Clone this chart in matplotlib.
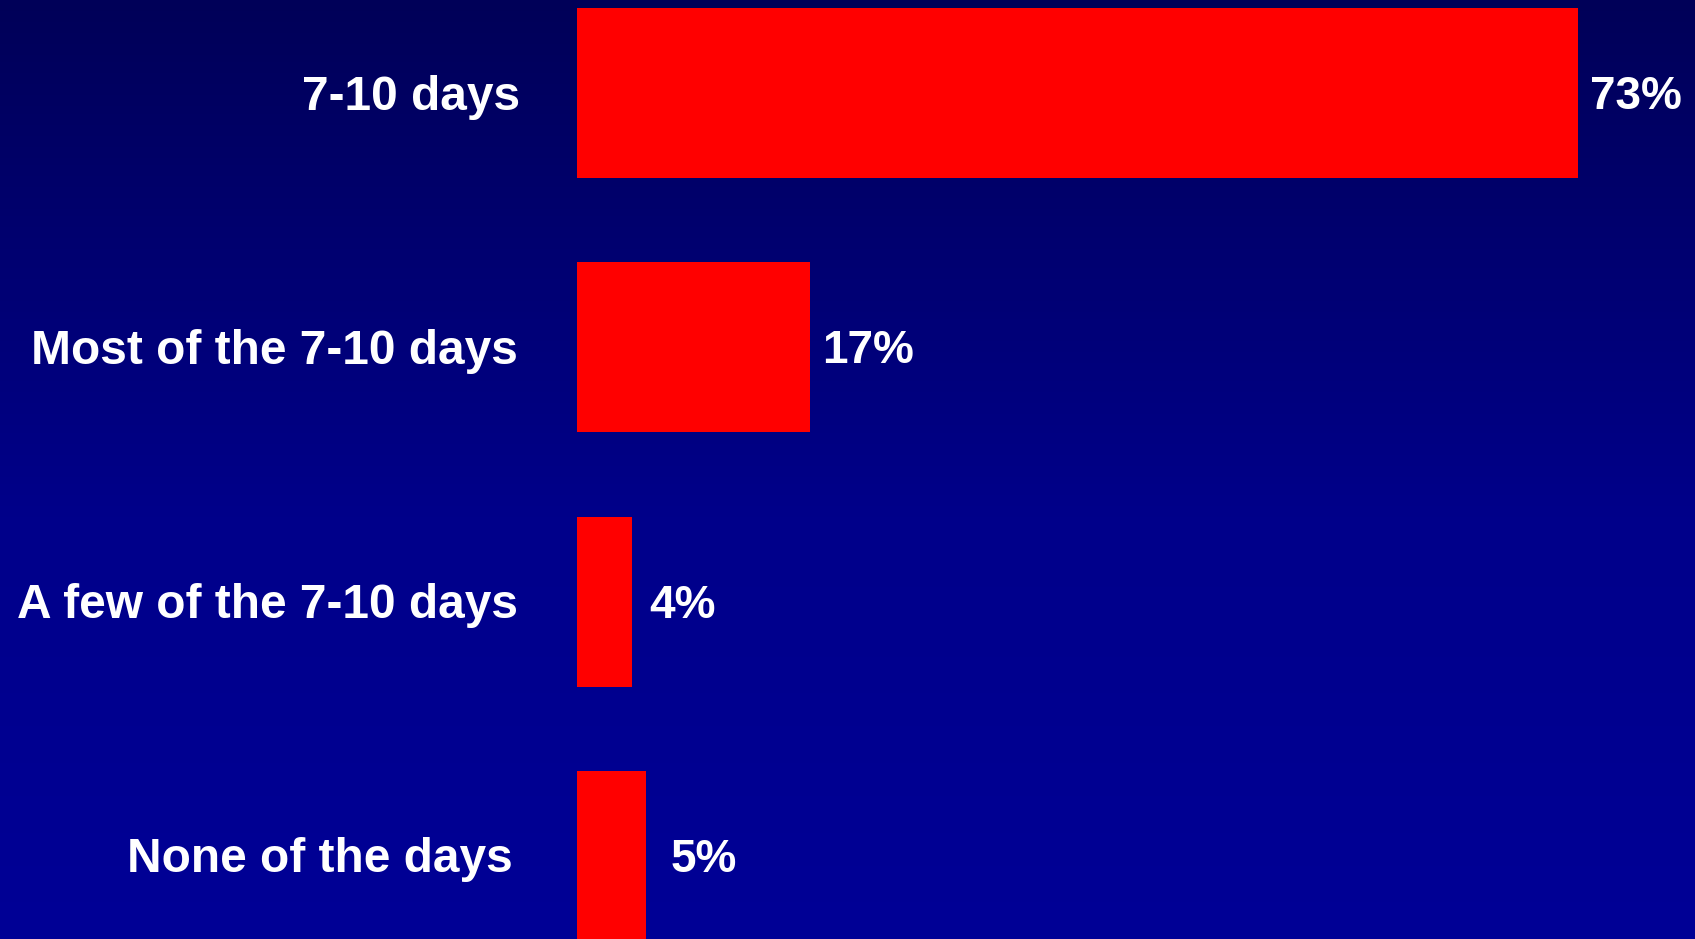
import numpy as np
import matplotlib
matplotlib.use("Agg")
import matplotlib.pyplot as plt
from matplotlib.colors import LinearSegmentedColormap

categories = ["7-10 days", "Most of the 7-10 days", "A few of the 7-10 days", "None of the days"]
values = [73, 17, 4, 5]
value_labels = ["73%", "17%", "4%", "5%"]

# layout (pixels at dpi=100)
W, H = 1695, 939
x0_px = 577            # pixel where value 0 lies
px_per_unit = 1001 / 73
y0_px = 93.5           # centre of first bar from top
step_px = 254
bar_h = 170 / 254
label_pad_px = [12, 12, 17, 25]
cat_label_right_px = [520, 518, 518, 513]
text_dy_px = -4

fig = plt.figure(figsize=(W / 100, H / 100), dpi=100)
ax = fig.add_axes([0, 0, 1, 1])
xl = (-x0_px / px_per_unit, (W - x0_px) / px_per_unit)
yl = ((H - y0_px) / step_px, -y0_px / step_px)
ax.set_xlim(*xl)
ax.set_ylim(*yl)

# background gradient
cmap = LinearSegmentedColormap.from_list(
    "bg", [(0.0, "#000058"), (0.55, "#00008a"), (1.0, "#000096")])
grad = np.linspace(0, 1, 256).reshape(-1, 1)
ax.imshow(grad, cmap=cmap, extent=(xl[0], xl[1], yl[0], yl[1]),
          origin="upper", aspect="auto", zorder=0)
ax.images[0].set_extent((xl[0], xl[1], yl[0], yl[1]))

ypos = np.arange(len(categories))
ax.barh(ypos, values, height=bar_h, color="#ff0000", zorder=2)

for i, (v, lab) in enumerate(zip(values, value_labels)):
    ax.annotate(lab, xy=(v, i), xytext=(label_pad_px[i], text_dy_px),
                textcoords="offset pixels", ha="left", va="center",
                color="white", fontsize=33, fontweight="bold",
                family="Liberation Sans", zorder=3)

for i, cat in enumerate(categories):
    ax.annotate(cat, xy=(0, i), xytext=(cat_label_right_px[i] - x0_px, text_dy_px),
                textcoords="offset pixels", ha="right", va="center",
                color="white", fontsize=34.5, fontweight="bold",
                family="Liberation Sans", zorder=3)

ax.axis("off")
fig.savefig("out.png", dpi=100)
